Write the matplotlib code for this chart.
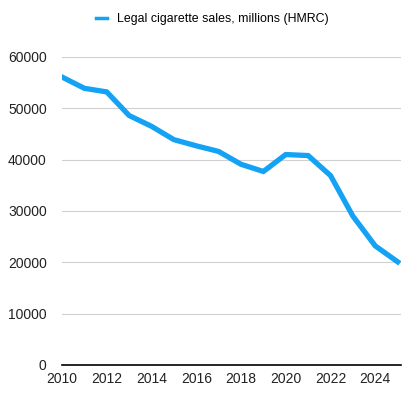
import matplotlib
matplotlib.use("Agg")
import matplotlib.pyplot as plt

plt.rcParams['font.family'] = ['Liberation Sans', 'DejaVu Sans']

# Legal cigarette sales, millions (HMRC)
years = [2010, 2011, 2012, 2013, 2014, 2015, 2016, 2017,
         2018, 2019, 2020, 2021, 2022, 2023, 2024, 2025]
sales = [56100, 53900, 53200, 48600, 46500, 43900, 42700, 41600,
         39100, 37700, 41000, 40800, 36900, 29000, 23200, 20100]
yticks = [0, 10000, 20000, 30000, 40000, 50000, 60000]
xticks = [2010, 2012, 2014, 2016, 2018, 2020, 2022, 2024]

fig = plt.figure(figsize=(4.17, 3.99), dpi=100)
ax = fig.add_axes([62 / 417, 1 - 365 / 399, (401 - 62) / 417, (365 - 57) / 399])

line, = ax.plot(years, sales, color='#14a2f4', linewidth=3.8,
                solid_joinstyle='miter', label='Legal cigarette sales, millions (HMRC)')

ax.set_xlim(2010, 2025.15)
ax.set_ylim(0, 60000)
ax.set_yticks(yticks)
ax.set_xticks(xticks)
ax.grid(axis='y', color='#d0d0d0', linewidth=0.8)
ax.set_axisbelow(True)
for side in ['top', 'right', 'left']:
    ax.spines[side].set_visible(False)
ax.spines['bottom'].set_color('black')
ax.spines['bottom'].set_linewidth(1.2)
ax.tick_params(length=0, labelsize=10, colors='#222222')
ax.tick_params(axis='y', pad=11)
ax.tick_params(axis='x', pad=5)

leg = ax.legend(loc='center', bbox_to_anchor=(212 / 417, 1 - 19 / 399),
                bbox_transform=fig.transFigure, frameon=False,
                fontsize=8.9, handlelength=0.9, handletextpad=0.8)
for h in leg.get_lines():
    h.set_linewidth(2.5)

fig.savefig('out.png', dpi=100)
